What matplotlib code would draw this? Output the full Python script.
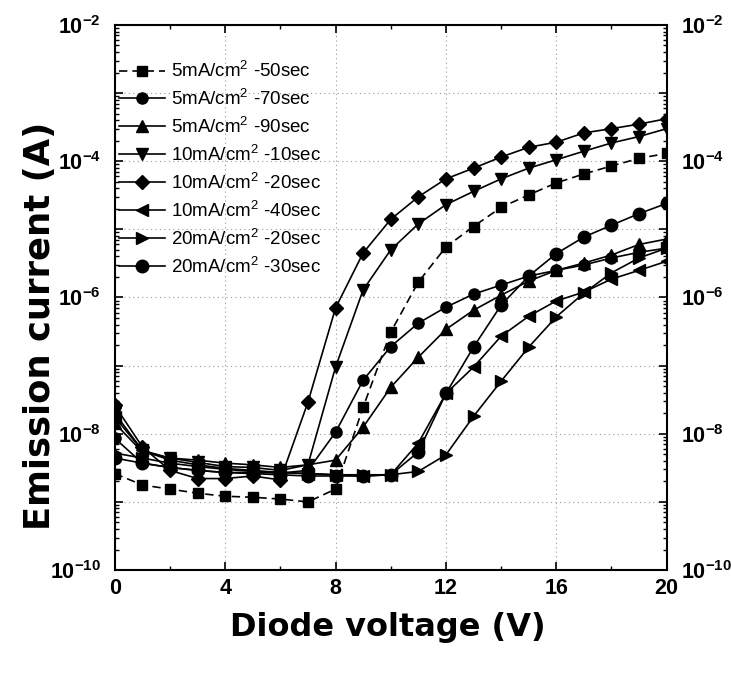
import math
import matplotlib
matplotlib.use("Agg")
import matplotlib.pyplot as plt
from matplotlib.ticker import LogLocator, MultipleLocator, FuncFormatter, NullFormatter

plt.rcParams['font.family'] = ['Liberation Sans', 'DejaVu Sans']
plt.rcParams['mathtext.fontset'] = 'custom'
plt.rcParams['mathtext.rm'] = 'Liberation Sans'
plt.rcParams['mathtext.bf'] = 'Liberation Sans:bold'

# Diode voltage (V)
voltage = list(range(0, 21))

# Emission current (A)
cur_5_50 = [2.6e-9, 1.77e-9, 1.54e-9, 1.34e-9, 1.21e-9, 1.17e-9, 1.1e-9, 1.0e-9, 1.54e-9, 2.45e-8,
            3.1e-7, 1.68e-6, 5.5e-6, 1.1e-5, 2.1e-5, 3.2e-5, 4.8e-5, 6.5e-5, 8.5e-5, 1.1e-4, 1.3e-4]
cur_5_70 = [8.6e-9, 3.7e-9, 3.2e-9, 2.9e-9, 2.7e-9, 2.7e-9, 2.65e-9, 2.9e-9, 1.05e-8, 6.1e-8,
            1.9e-7, 4.2e-7, 7.2e-7, 1.12e-6, 1.52e-6, 2.06e-6, 2.5e-6, 3.0e-6, 3.8e-6, 4.6e-6, 5.3e-6]
cur_5_90 = [1.43e-8, 5.4e-9, 4.4e-9, 4.1e-9, 3.7e-9, 3.5e-9, 3.2e-9, 3.5e-9, 4.1e-9, 1.25e-8,
            4.8e-8, 1.33e-7, 3.4e-7, 6.5e-7, 1.08e-6, 1.74e-6, 2.5e-6, 3.2e-6, 4.2e-6, 6.0e-6, 7.2e-6]
cur_10_10 = [2.0e-8, 5.7e-9, 4.4e-9, 3.8e-9, 3.3e-9, 3.2e-9, 2.9e-9, 3.5e-9, 9.5e-8, 1.29e-6,
             5.0e-6, 1.2e-5, 2.3e-5, 3.6e-5, 5.5e-5, 7.9e-5, 1.05e-4, 1.4e-4, 1.85e-4, 2.3e-4, 3.0e-4]
cur_10_20 = [2.6e-8, 6.4e-9, 2.9e-9, 2.2e-9, 2.2e-9, 2.4e-9, 2.1e-9, 2.9e-8, 7.0e-7, 4.5e-6,
             1.4e-5, 3.0e-5, 5.5e-5, 7.9e-5, 1.15e-4, 1.6e-4, 1.9e-4, 2.6e-4, 3.0e-4, 3.5e-4, 4.2e-4]
cur_10_40 = [1.75e-8, 5.7e-9, 4.1e-9, 3.5e-9, 3.1e-9, 2.9e-9, 2.7e-9, 2.6e-9, 2.5e-9, 2.4e-9,
             2.5e-9, 7.3e-9, 3.9e-8, 9.5e-8, 2.7e-7, 5.3e-7, 8.9e-7, 1.2e-6, 1.86e-6, 2.5e-6, 3.4e-6]
cur_20_20 = [5.2e-9, 4.4e-9, 3.7e-9, 3.3e-9, 3.0e-9, 2.8e-9, 2.7e-9, 2.6e-9, 2.5e-9, 2.5e-9,
             2.5e-9, 2.8e-9, 4.9e-9, 1.8e-8, 5.9e-8, 1.87e-7, 5.2e-7, 1.16e-6, 2.3e-6, 3.8e-6, 5.3e-6]
cur_20_30 = [4.4e-9, 3.7e-9, 3.2e-9, 2.9e-9, 2.7e-9, 2.6e-9, 2.5e-9, 2.4e-9, 2.4e-9, 2.4e-9,
             2.5e-9, 5.4e-9, 3.9e-8, 1.87e-7, 7.7e-7, 2.06e-6, 4.4e-6, 7.7e-6, 1.15e-5, 1.7e-5, 2.4e-5]

labels = ['5mA/cm$^2$ -50sec', '5mA/cm$^2$ -70sec', '5mA/cm$^2$ -90sec',
          '10mA/cm$^2$ -10sec', '10mA/cm$^2$ -20sec', '10mA/cm$^2$ -40sec',
          '20mA/cm$^2$ -20sec', '20mA/cm$^2$ -30sec']
series = [cur_5_50, cur_5_70, cur_5_90, cur_10_10, cur_10_20, cur_10_40, cur_20_20, cur_20_30]
markers = ['s', 'o', '^', 'v', 'D', '<', '>', 'o']
sizes = [7, 8, 8.5, 8.5, 7.5, 8.5, 8.5, 9]
styles = [(0, (5, 3)), '-', '-', '-', '-', '-', '-', '-']

fig = plt.figure(figsize=(7.31, 6.73), dpi=100)
ax = fig.add_axes([0.157, 0.153, 0.755, 0.810])

for y, lab, m, ms, ls in zip(series, labels, markers, sizes, styles):
    ax.plot(voltage, y, color='black', marker=m, markersize=ms, linestyle=ls,
            linewidth=1.2, label=lab)

ax.set_yscale('log')
ax.set_xlim(0, 20)
ax.set_ylim(1e-10, 1e-2)

ax.xaxis.set_major_locator(MultipleLocator(4))
ax.xaxis.set_minor_locator(MultipleLocator(2))
ax.yaxis.set_major_locator(LogLocator(base=10, numticks=20))
ax.yaxis.set_minor_locator(LogLocator(base=10, subs=range(2, 10), numticks=20))
ax.yaxis.set_minor_formatter(NullFormatter())

def ylab(v, pos):
    e = int(round(math.log10(v)))
    if e % 2:
        return ''
    return r'$\mathbf{10^{%d}}$' % e

ax.yaxis.set_major_formatter(FuncFormatter(ylab))

ax.grid(True, which='major', color='#999999', linestyle=(0, (1, 3)), linewidth=0.8)

ax.tick_params(which='both', direction='in', top=True, right=True, labelright=True)
ax.tick_params(which='major', length=6, width=1.2, labelsize=15.5, pad=6)
ax.tick_params(axis='y', which='major', pad=10)
ax.tick_params(which='minor', length=3, width=1.0)
for t in ax.get_xticklabels():
    t.set_fontweight('bold')
for s in ax.spines.values():
    s.set_linewidth(1.5)

ax.set_xlabel('Diode voltage (V)', fontsize=23, fontweight='bold', family='DejaVu Sans')
ax.set_ylabel('Emission current (A)', fontsize=25.5, fontweight='bold', family='DejaVu Sans')
ax.xaxis.set_label_coords(0.495, -0.077)
ax.yaxis.set_label_coords(-0.105, 0.448)

ax.legend(loc='upper left', bbox_to_anchor=(0.0, 0.942), frameon=False, fontsize=13.5,
          handlelength=2.5, handletextpad=0.3, labelspacing=0.38, borderaxespad=0.1,
          borderpad=0.1)

fig.savefig('out.png', dpi=100)
